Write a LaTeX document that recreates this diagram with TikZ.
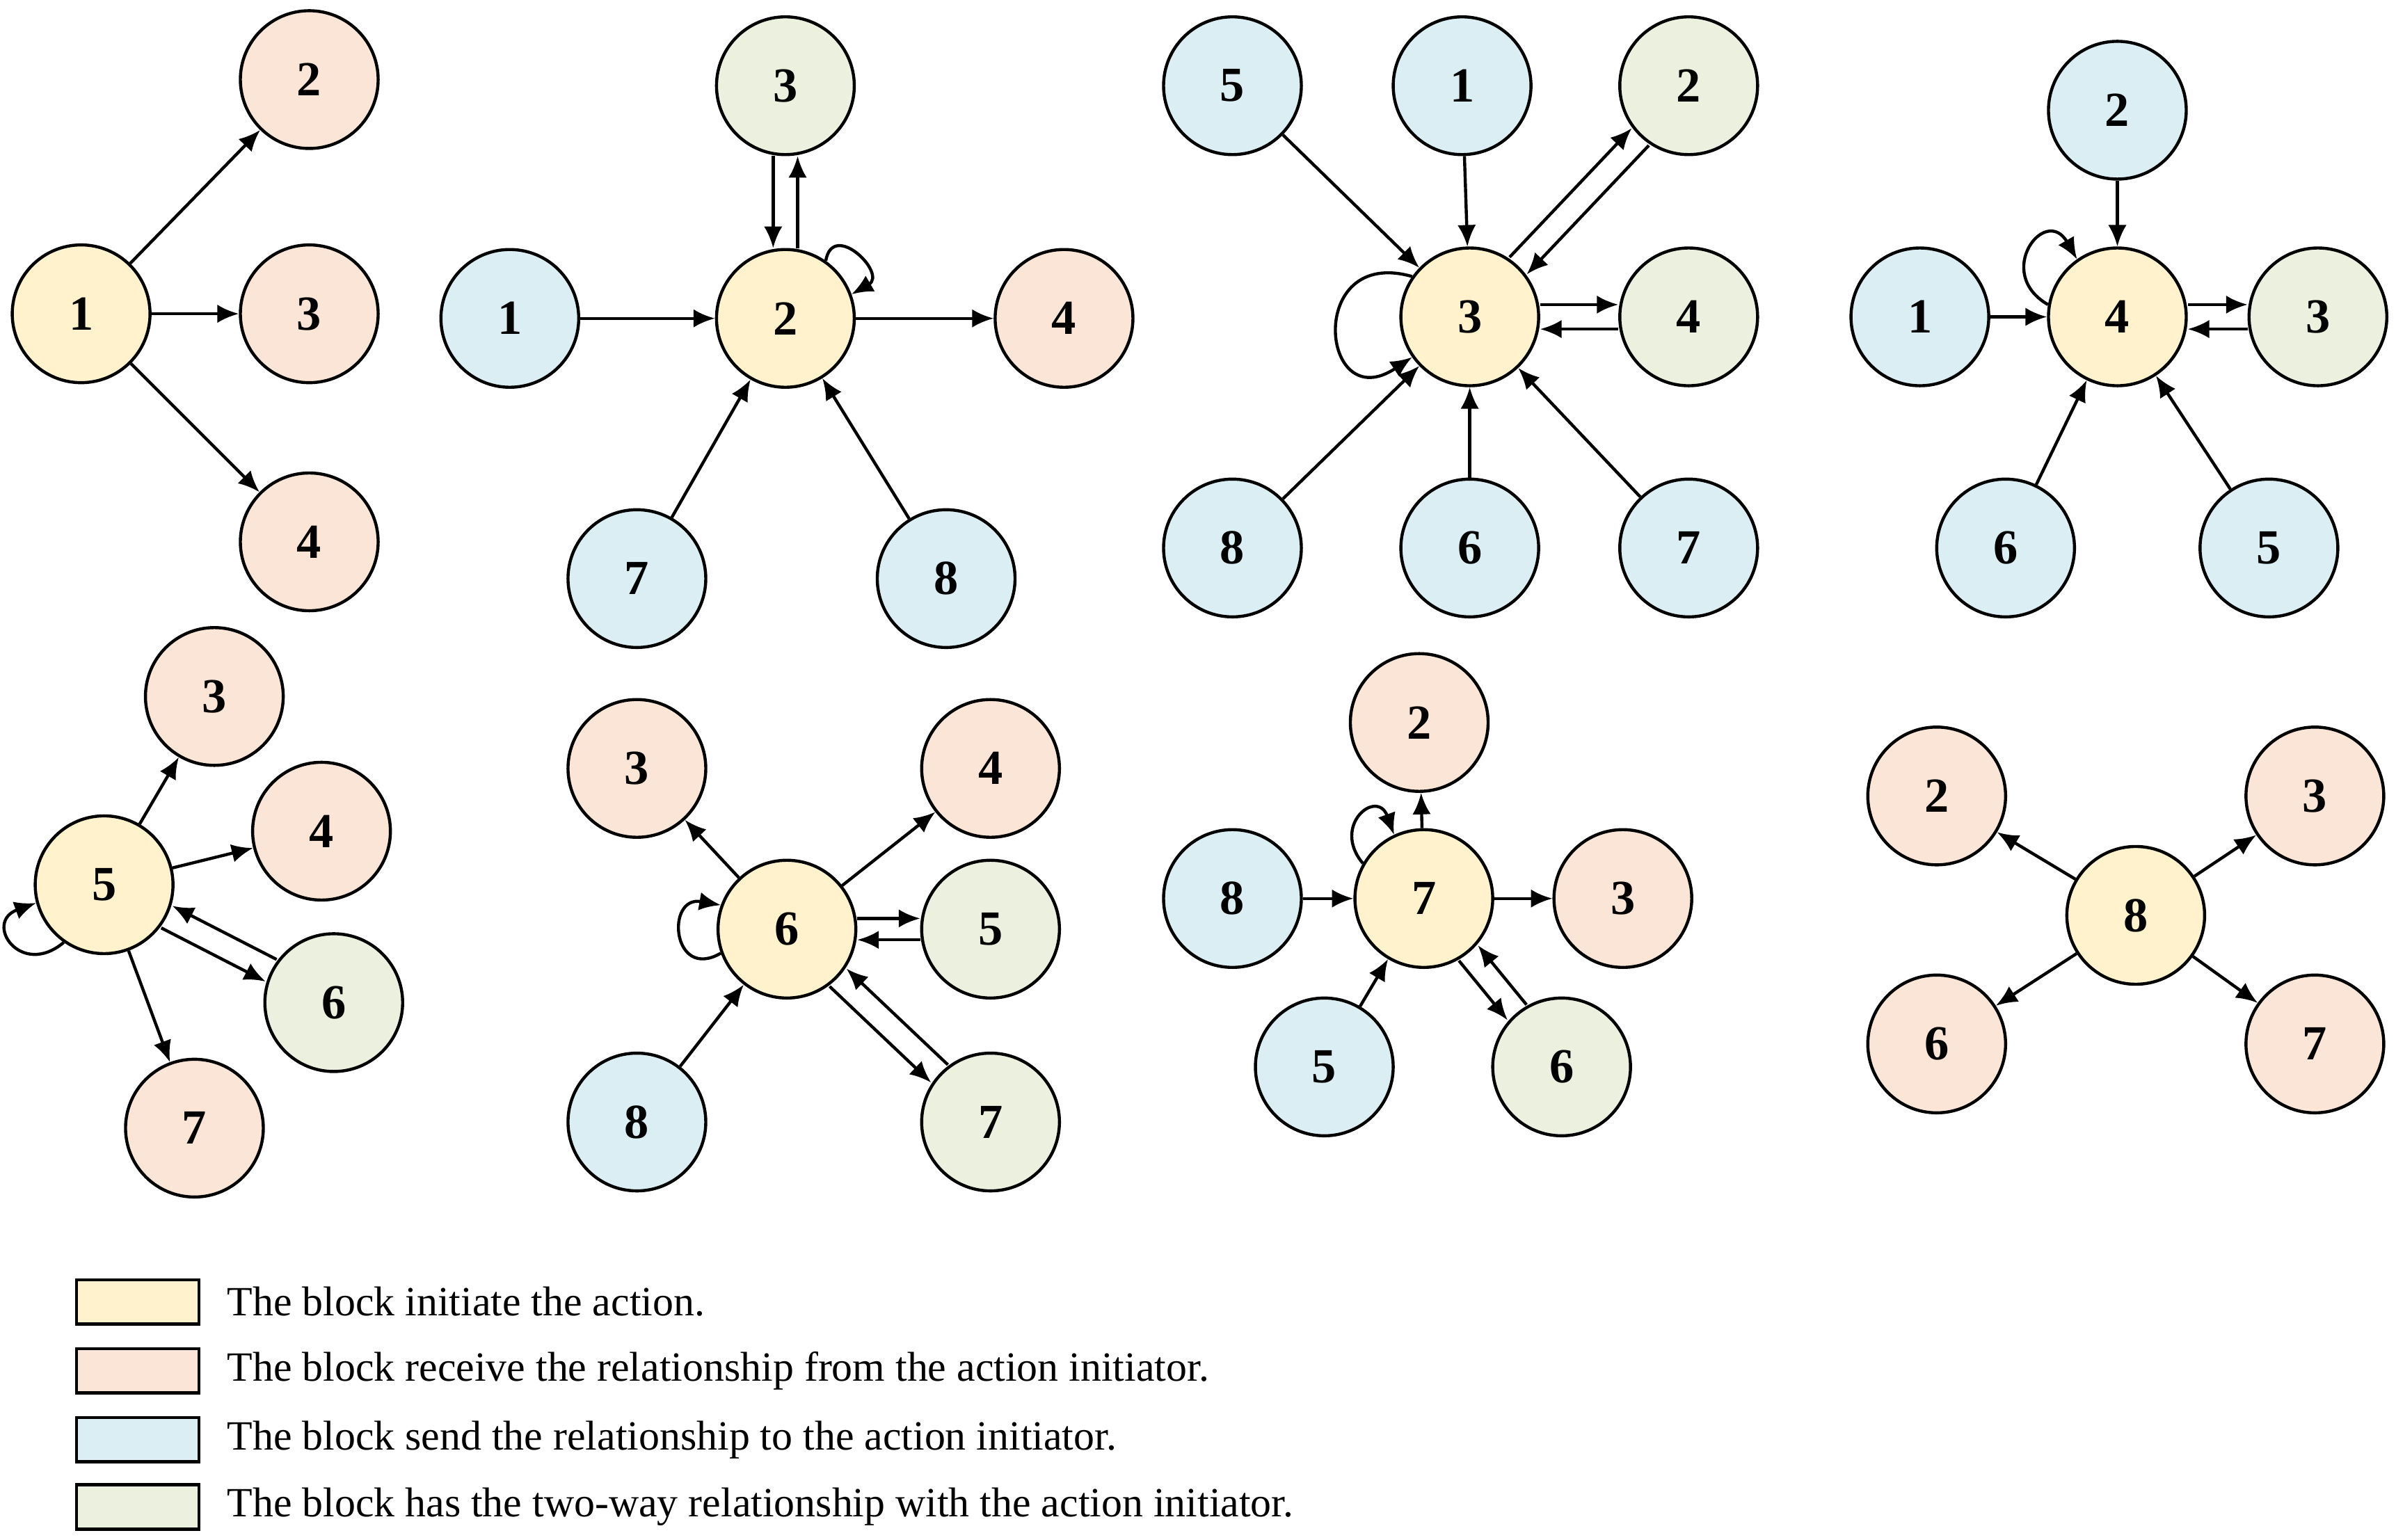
\documentclass[tikz,border=0pt]{standalone}
\usepackage{fontspec}
\setmainfont{Liberation Serif}
\usetikzlibrary{arrows.meta}
\definecolor{cy}{HTML}{FFF2CC}
\definecolor{cp}{HTML}{FBE5D6}
\definecolor{cb}{HTML}{DAEEF3}
\definecolor{cg}{HTML}{EBF1DE}
\begin{document}
\begin{tikzpicture}[x=0.5pt,y=-0.5pt,
  n/.style={circle,draw=black,line width=1pt,minimum size=45pt,inner sep=0pt,font=\fontsize{16}{16}\selectfont\bfseries},
  Y/.style={n,fill=cy},P/.style={n,fill=cp},B/.style={n,fill=cb},G/.style={n,fill=cg},
  e/.style={-{Latex[length=7pt,width=6pt]},line width=1pt},
  lb/.style={draw=black,line width=1pt,minimum width=40pt,minimum height=14.5pt,inner sep=0pt},
  lt/.style={anchor=west,font=\fontsize{13.6}{13.6}\selectfont,inner sep=0pt}]
\useasboundingbox (0,0) rectangle (1565,1006);
% group 1
\node[Y] (a1) at (53,205) {1};
\node[P] (a2) at (202,52) {2};
\node[P] (a3) at (202,205) {3};
\node[P] (a4) at (202,354) {4};
\draw[e] (a1)--(a2); \draw[e] (a1)--(a3); \draw[e] (a1)--(a4);
% group 2
\node[Y] (b2) at (513,208) {2};
\node[G] (b3) at (513,56) {3};
\node[B] (b1) at (333,208) {1};
\node[P] (b4) at (695,208) {4};
\node[B] (b7) at (416,378) {7};
\node[B] (b8) at (618,378) {8};
\draw[e,transform canvas={xshift=-4pt}] (b3)--(b2);
\draw[e,transform canvas={xshift=4pt}] (b2)--(b3);
\draw[e] (b1)--(b2); \draw[e] (b2)--(b4); \draw[e] (b7)--(b2); \draw[e] (b8)--(b2);
\draw[e] (b2.55) to[out=80,in=30,looseness=2.5] (b2.20);
% group 3
\node[Y] (c3) at (960,207) {3};
\node[B] (c5) at (805,56) {5};
\node[B] (c1) at (955,56) {1};
\node[G] (c2) at (1103,56) {2};
\node[G] (c4) at (1103,207) {4};
\node[B] (c8) at (805,358) {8};
\node[B] (c6) at (960,358) {6};
\node[B] (c7) at (1103,358) {7};
\draw[e] (c5)--(c3); \draw[e] (c1)--(c3); \draw[e] (c8)--(c3); \draw[e] (c6)--(c3); \draw[e] (c7)--(c3);
\draw[e,transform canvas={xshift=-2.8pt,yshift=2.8pt}] (c3)--(c2);
\draw[e,transform canvas={xshift=2.8pt,yshift=-2.8pt}] (c2)--(c3);
\draw[e,transform canvas={yshift=4pt}] (c3)--(c4);
\draw[e,transform canvas={yshift=-4pt}] (c4)--(c3);
\draw[e] (c3.145) .. controls +(-70,-20) and +(-60,40) .. (c3.215);
% group 4
\node[Y] (d4) at (1383,207) {4};
\node[B] (d2) at (1383,72) {2};
\node[B] (d1) at (1254,207) {1};
\node[G] (d3) at (1514,207) {3};
\node[B] (d6) at (1310,358) {6};
\node[B] (d5) at (1482,358) {5};
\draw[e] (d2)--(d4); \draw[e] (d1)--(d4); \draw[e] (d6)--(d4); \draw[e] (d5)--(d4);
\draw[e,transform canvas={yshift=4pt}] (d4)--(d3);
\draw[e,transform canvas={yshift=-4pt}] (d3)--(d4);
\draw[e] (d4.170) to[out=150,in=120,looseness=3] (d4.125);
% group 5
\node[Y] (e5) at (68,578) {5};
\node[P] (e3) at (140,455) {3};
\node[P] (e4) at (210,543) {4};
\node[G] (e6) at (218,655) {6};
\node[P] (e7) at (127,737) {7};
\draw[e] (e5)--(e3); \draw[e] (e5)--(e4); \draw[e] (e5)--(e7);
\draw[e,transform canvas={xshift=1.8pt,yshift=3.6pt}] (e6)--(e5);
\draw[e,transform canvas={xshift=-1.8pt,yshift=-3.6pt}] (e5)--(e6);
\draw[e] (e5.235) to[out=220,in=200,looseness=3] (e5.195);
% group 6
\node[Y] (f6) at (514,607) {6};
\node[P] (f3) at (416,502) {3};
\node[P] (f4) at (647,502) {4};
\node[G] (f5) at (647,607) {5};
\node[B] (f8) at (416,733) {8};
\node[G] (f7) at (647,733) {7};
\draw[e] (f6)--(f3); \draw[e] (f6)--(f4); \draw[e] (f8)--(f6);
\draw[e,transform canvas={yshift=3.5pt}] (f6)--(f5);
\draw[e,transform canvas={yshift=-3.5pt}] (f5)--(f6);
\draw[e,transform canvas={xshift=-2.75pt,yshift=-2.9pt}] (f6)--(f7);
\draw[e,transform canvas={xshift=2.75pt,yshift=2.9pt}] (f7)--(f6);
\draw[e] (f6.200) to[out=210,in=170,looseness=3] (f6.160);
% group 7
\node[Y] (g7) at (930,587) {7};
\node[P] (g2) at (927,472) {2};
\node[B] (g8) at (805,587) {8};
\node[P] (g3) at (1060,587) {3};
\node[B] (g5) at (865,697) {5};
\node[G] (g6) at (1020,697) {6};
\draw[e] (g7)--(g2); \draw[e] (g8)--(g7); \draw[e] (g7)--(g3); \draw[e] (g5)--(g7);
\draw[e,transform canvas={xshift=-3.1pt,yshift=-2.5pt}] (g7)--(g6);
\draw[e,transform canvas={xshift=3.1pt,yshift=2.5pt}] (g6)--(g7);
\draw[e] (g7.150) to[out=130,in=110,looseness=3] (g7.115);
% group 8
\node[Y] (h8) at (1395,598) {8};
\node[P] (h2) at (1265,520) {2};
\node[P] (h3) at (1512,520) {3};
\node[P] (h6) at (1265,682) {6};
\node[P] (h7) at (1512,682) {7};
\draw[e] (h8)--(h2); \draw[e] (h8)--(h3); \draw[e] (h8)--(h6); \draw[e] (h8)--(h7);
% legend
\node[lb,fill=cy] (l1) at (90,850.5) {};
\node[lb,fill=cp] (l2) at (90,895.5) {};
\node[lb,fill=cb] (l3) at (90,940.5) {};
\node[lb,fill=cg] (l4) at (90,984.5) {};
\node[lt] (t1) at (148,850.5) {The block initiate the action.};
\node[lt] (t2) at (148,895.5) {The block receive the relationship from the action initiator.};
\node[lt] (t3) at (148,940.5) {The block send the relationship to the action initiator.};
\node[lt] (t4) at (148,984.5) {The block has the two-way relationship with the action initiator.};
\end{tikzpicture}
\end{document}
